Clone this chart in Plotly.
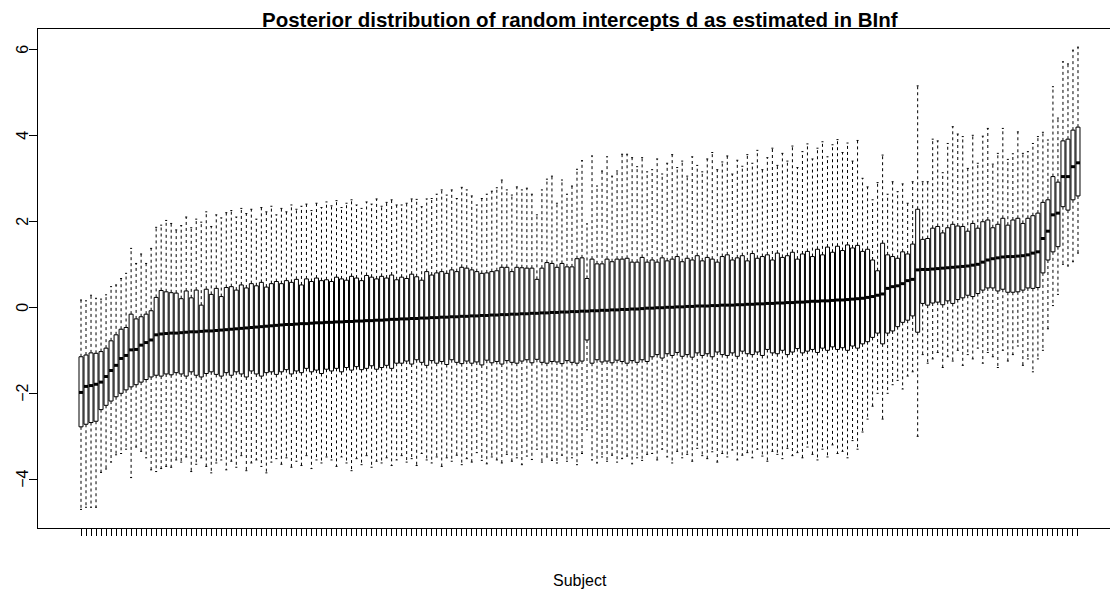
import plotly.graph_objects as go

# ---- data, subjects ordered 1..200 ----
med = [-1.98, -1.84, -1.82, -1.79, -1.74, -1.61, -1.47, -1.35, -1.19, -1.12,
       -0.99, -0.98, -0.88, -0.82, -0.76, -0.64, -0.62, -0.61, -0.60, -0.60,
       -0.59, -0.58, -0.57, -0.57, -0.56, -0.55, -0.55, -0.54, -0.53, -0.52,
       -0.51, -0.50, -0.49, -0.48, -0.47, -0.46, -0.45, -0.44, -0.43, -0.42,
       -0.41, -0.40, -0.40, -0.39, -0.38, -0.38, -0.37, -0.36, -0.36, -0.35,
       -0.35, -0.34, -0.34, -0.33, -0.33, -0.32, -0.32, -0.31, -0.31, -0.30, -0.30, -0.29, -0.28, -0.28,
       -0.27, -0.27, -0.26, -0.26, -0.25, -0.25, -0.24, -0.24, -0.23, -0.23,
       -0.22, -0.22, -0.21, -0.21, -0.20, -0.20, -0.19, -0.19, -0.18, -0.18,
       -0.17, -0.17, -0.16, -0.16, -0.15, -0.15, -0.14, -0.14, -0.13, -0.13,
       -0.12, -0.12, -0.11, -0.11, -0.10, -0.10, -0.09, -0.09, -0.08, -0.08,
       -0.07, -0.07, -0.06, -0.06, -0.05, -0.05, -0.04, -0.04, -0.03, -0.02,
       -0.02, -0.01, -0.01, 0.00, 0.00, 0.01, 0.01, 0.02, 0.02, 0.03,
       0.03, 0.03, 0.04, 0.04, 0.05, 0.05, 0.05, 0.06, 0.06, 0.07,
       0.07, 0.08, 0.08, 0.09, 0.09, 0.10, 0.10, 0.11, 0.11, 0.12,
       0.12, 0.13, 0.14, 0.14, 0.15, 0.15, 0.16, 0.17, 0.17, 0.18,
       0.19, 0.20, 0.21, 0.23, 0.25, 0.28,
       0.31, 0.44, 0.48, 0.50, 0.55, 0.62, 0.65, 0.87, 0.88, 0.88,
       0.89, 0.90, 0.91, 0.92, 0.93, 0.94, 0.95, 0.96, 0.98, 1.00,
       1.05, 1.10, 1.13, 1.15, 1.17, 1.18, 1.18, 1.19, 1.20, 1.22,
       1.26, 1.29, 1.60, 1.77, 2.15, 2.19, 3.04, 3.04, 3.27, 3.36]

q1 = [-2.78, -2.72, -2.68, -2.65, -2.38, -2.28, -2.18, -2.08, -2.00, -1.92,
      -1.85, -1.80, -1.74, -1.68, -1.62, -1.58, -1.60, -1.55, -1.57, -1.52,
      -1.55, -1.60, -1.50, -1.58, -1.62, -1.54, -1.50, -1.56, -1.60, -1.52,
      -1.58, -1.50, -1.55, -1.62, -1.48, -1.55, -1.60, -1.52, -1.50, -1.56,
      -1.50, -1.45, -1.55, -1.48, -1.52, -1.42, -1.50, -1.46, -1.54, -1.44,
      -1.48, -1.42, -1.50, -1.40, -1.46, -1.38, -1.45, -1.42, -1.36, -1.44, -1.40, -1.35, -1.42, -1.30,
      -1.30, -1.25, -1.32, -1.22, -1.28, -1.35, -1.24, -1.30, -1.26, -1.33,
      -1.22, -1.28, -1.31, -1.25, -1.30, -1.27, -1.34, -1.23, -1.29, -1.26,
      -1.32, -1.24, -1.28, -1.30, -1.25, -1.22, -1.29, -1.21, -1.28, -1.30,
      -1.26, -1.27, -1.31, -1.24, -1.28, -1.30, -1.25, -0.76, -1.30, -1.22,
      -1.27, -1.25, -1.29, -1.23, -1.26, -1.30, -1.24, -1.28, -1.22, -1.26,
      -1.15, -1.10, -1.18, -1.08, -1.12, -1.05, -1.14, -1.10, -1.16, -1.06,
      -1.12, -1.08, -1.15, -1.04, -1.10, -1.12, -1.06, -1.14, -1.02, -1.08,
      -1.10, -1.04, -1.12, -0.98, -1.06, -1.08, -1.00, -1.10, -1.04, -0.96,
      -1.06, -1.02, -0.98, -1.05, -0.95, -1.00, -0.92, -0.98, -0.94, -1.00,
      -0.90, -0.95, -0.85, -0.80, -0.70, -0.60,
      -0.85, -0.60, -0.55, -0.45, -0.35, -0.30, -0.20, -0.58, 0.09, 0.05,
      0.10, 0.12, 0.06, 0.15, 0.09, 0.18, 0.22, 0.28, 0.25, 0.32,
      0.40, 0.45, 0.45, 0.38, 0.42, 0.35, 0.35, 0.36, 0.40, 0.45,
      0.44, 0.46, 0.80, 1.10, 1.29, 1.41, 2.34, 2.26, 2.50, 2.59]

q3 = [-1.15, -1.11, -1.06, -1.07, -1.03, -0.95, -0.78, -0.64, -0.51, -0.47,
      -0.16, -0.27, -0.22, -0.16, -0.08, 0.23, 0.39, 0.36, 0.34, 0.33,
      0.20, 0.38, 0.22, 0.40, 0.05, 0.42, 0.30, 0.44, 0.25, 0.46,
      0.48, 0.40, 0.52, 0.45, 0.55, 0.50, 0.58, 0.47, 0.55, 0.60,
      0.55, 0.62, 0.58, 0.65, 0.52, 0.66, 0.60, 0.68, 0.62, 0.64,
      0.60, 0.70, 0.66, 0.63, 0.72, 0.68, 0.62, 0.74, 0.70, 0.66, 0.72, 0.68, 0.75, 0.64,
      0.70, 0.67, 0.77, 0.71, 0.63, 0.83, 0.75, 0.80, 0.83, 0.79,
      0.87, 0.83, 0.93, 0.91, 0.87, 0.83, 0.79, 0.80, 0.83, 0.85,
      0.93, 0.93, 0.83, 0.93, 0.92, 0.91, 0.91, 0.65, 0.91, 1.04,
      1.02, 0.93, 1.02, 0.94, 0.94, 1.13, 1.15, 0.67, 1.12, 1.01,
      1.01, 1.12, 1.06, 1.12, 1.12, 1.14, 1.05, 1.05, 1.16, 1.05,
      1.10, 1.05, 1.15, 1.08, 1.12, 1.18, 1.06, 1.14, 1.10, 1.20,
      1.08, 1.16, 1.12, 1.05, 1.18, 1.22, 1.10, 1.15, 1.20, 1.08,
      1.25, 1.14, 1.18, 1.22, 1.10, 1.26, 1.16, 1.20, 1.28, 1.12,
      1.24, 1.30, 1.18, 1.35, 1.22, 1.40, 1.28, 1.42, 1.32, 1.45,
      1.38, 1.44, 1.30, 1.35, 1.10, 0.85,
      1.49, 1.22, 1.18, 1.14, 1.29, 1.24, 1.47, 2.28, 1.58, 1.60,
      1.84, 1.88, 1.73, 1.85, 1.93, 1.89, 1.88, 1.77, 1.95, 1.84,
      1.99, 2.03, 1.85, 1.93, 2.07, 1.91, 2.03, 2.07, 1.95, 2.07,
      2.13, 2.19, 2.44, 2.50, 3.04, 2.91, 3.87, 3.91, 4.12, 4.19]

lower = [-4.70, -4.65, -4.65, -4.65, -3.84, -3.76, -3.60, -3.43, -3.40, -3.30,
         -3.96, -3.25, -3.35, -3.50, -3.78, -3.82, -3.75, -3.70, -3.72, -3.55,
         -3.60, -3.48, -3.82, -3.65, -3.50, -3.70, -3.85, -3.62, -3.55, -3.78,
         -3.58, -3.72, -3.45, -3.80, -3.62, -3.55, -3.70, -3.85, -3.60, -3.52,
         -3.65, -3.50, -3.72, -3.58, -3.68, -3.45, -3.75, -3.55, -3.62, -3.48,
         -3.55, -3.70, -3.48, -3.62, -3.80, -3.52, -3.66, -3.45, -3.72, -3.58, -3.62, -3.50, -3.68, -3.55,
         -3.45, -3.60, -3.52, -3.68, -3.40, -3.55, -3.62, -3.48, -3.70, -3.50,
         -3.58, -3.44, -3.66, -3.52, -3.60, -3.38, -3.56, -3.64, -3.48, -3.55,
         -3.62, -3.42, -3.58, -3.50, -3.66, -3.46, -3.54, -3.30, -3.60, -3.48,
         -3.56, -3.62, -3.44, -3.58, -3.50, -3.66, -3.40, -2.85, -3.55, -3.62,
         -3.48, -3.58, -3.44, -3.60, -3.52, -3.46, -3.64, -3.50, -3.56, -3.42,
         -3.40, -3.55, -3.30, -3.48, -3.62, -3.35, -3.50, -3.42, -3.58, -3.28,
         -3.45, -3.52, -3.36, -3.60, -3.40, -3.48, -3.32, -3.55, -3.44, -3.38,
         -3.50, -3.30, -3.46, -3.58, -3.35, -3.42, -3.52, -3.28, -3.45, -3.38,
         -3.50, -3.25, -3.42, -3.55, -3.30, -3.48, -3.20, -3.40, -3.35, -3.50,
         -3.10, -3.30, -2.90, -2.60, -2.30, -2.00,
         -2.60, -2.00, -1.80, -1.70, -1.90, -1.60, -1.50, -3.00, -1.10, -1.30,
         -1.20, -1.05, -1.40, -1.15, -1.25, -1.00, -1.35, -1.10, -1.20, -0.95,
         -1.30, -1.05, -1.15, -1.40, -1.00, -1.25, -1.10, -0.90, -1.35, -1.20,
         -1.50, -1.20, -1.00, -0.50, 0.04, 0.30, 1.00, 0.96, 1.06, 1.26]

upper = [0.17, 0.15, 0.28, 0.21, 0.19, 0.29, 0.48, 0.52, 0.67, 0.79,
         1.37, 1.02, 1.24, 1.02, 1.37, 1.86, 1.91, 2.02, 1.95, 1.80,
         1.90, 2.10, 1.85, 2.05, 1.98, 2.22, 1.88, 2.15, 2.08, 2.20,
         2.25, 2.10, 2.30, 2.18, 2.28, 2.05, 2.32, 2.22, 2.35, 2.15,
         2.30, 2.22, 2.38, 2.28, 2.35, 2.40, 2.25, 2.42, 2.32, 2.45,
         2.36, 2.48, 2.32, 2.42, 2.50, 2.38, 2.30, 2.45, 2.40, 2.52, 2.35, 2.44, 2.50, 2.38,
         2.38, 2.42, 2.52, 2.51, 2.34, 2.52, 2.53, 2.63, 2.73, 2.61,
         2.73, 2.53, 2.79, 2.73, 2.59, 2.38, 2.53, 2.63, 2.70, 2.78,
         2.96, 2.73, 2.61, 2.80, 2.73, 2.77, 2.63, 2.15, 2.73, 2.98,
         3.05, 2.42, 2.96, 2.63, 2.82, 3.21, 3.41, 1.94, 3.52, 2.82,
         3.17, 3.50, 3.05, 3.17, 3.56, 3.56, 3.48, 3.27, 3.48, 3.15,
         3.20, 3.45, 3.10, 3.35, 3.55, 3.25, 3.40, 3.05, 3.50, 3.30,
         3.15, 3.45, 3.60, 3.20, 3.38, 3.52, 3.10, 3.42, 3.28, 3.55,
         3.35, 3.65, 3.20, 3.48, 3.70, 3.30, 3.58, 3.40, 3.75, 3.25,
         3.62, 3.80, 3.45, 3.70, 3.85, 3.50, 3.78, 3.90, 3.60, 3.82,
         3.40, 3.88, 3.00, 2.80, 2.50, 2.90,
         3.54, 2.63, 2.92, 2.69, 2.87, 2.42, 2.92, 5.15, 2.92, 2.92,
         3.91, 3.87, 3.13, 3.81, 4.20, 4.03, 3.97, 3.23, 4.00, 3.35,
         3.98, 4.16, 3.33, 3.58, 4.16, 3.44, 3.57, 4.08, 3.58, 3.62,
         3.81, 3.97, 4.07, 3.89, 5.13, 4.40, 5.71, 5.66, 5.98, 6.05]

y_ticks = [-4, -2, 0, 2, 4, 6]
y_tick_labels = ["\u22124", "\u22122", "0", "2", "4", "6"]
title_text = "Posterior distribution of random intercepts d as estimated in BInf"
x_label = "Subject"

n = len(med)
assert all(len(a) == n for a in (q1, q3, lower, upper)), [len(a) for a in (med, q1, q3, lower, upper)]
subjects = list(range(1, n + 1))

BOXW = 0.8
STAPLE = 0.2

# whiskers (dashed)
wx, wy = [], []
for i, a, b, c, d in zip(subjects, q3, upper, q1, lower):
    wx += [i, i, None, i, i, None]
    wy += [a, b, None, c, d, None]
# staples
sx, sy = [], []
for i, b, d in zip(subjects, upper, lower):
    sx += [i - STAPLE, i + STAPLE, None, i - STAPLE, i + STAPLE, None]
    sy += [b, b, None, d, d, None]
# medians
mx, my = [], []
for i, m in zip(subjects, med):
    mx += [i - BOXW / 2, i + BOXW / 2, None]
    my += [m, m, None]

fig = go.Figure()
fig.add_trace(go.Scatter(x=wx, y=wy, mode="lines",
                         line=dict(color="black", width=1, dash="3px,3px"),
                         hoverinfo="skip", showlegend=False))
fig.add_trace(go.Scatter(x=sx, y=sy, mode="lines",
                         line=dict(color="black", width=1),
                         hoverinfo="skip", showlegend=False))
fig.add_trace(go.Bar(x=subjects, base=q1, y=[b - a for a, b in zip(q1, q3)],
                     width=BOXW, marker=dict(color="white", line=dict(color="black", width=1)),
                     showlegend=False))
fig.add_trace(go.Scatter(x=mx, y=my, mode="lines",
                         line=dict(color="black", width=3),
                         hoverinfo="skip", showlegend=False))

L, T, B = 38, 29, 528
W, H = 1110, 589
px_per_box = 5.01
x0_px = 81.0
xmin = 1 - (x0_px - L) / px_per_box
xmax = 1 + (W - x0_px) / px_per_box
FONT = "Liberation Sans, Arial, Helvetica, sans-serif"

annotations = [
    dict(text="<b>" + title_text + "</b>", xref="paper", yref="paper",
         x=(579.5 - L) / (W - L), y=1 + (T - 19.5) / (B - T),
         xanchor="center", yanchor="middle", showarrow=False,
         font=dict(size=20.5, family=FONT)),
    dict(text=x_label, xref="paper", yref="paper",
         x=(579.5 - L) / (W - L), y=-(580 - B) / (B - T),
         xanchor="center", yanchor="middle", showarrow=False,
         font=dict(size=16, family=FONT)),
]
# y tick labels, rotated like R's default (parallel to the axis)
for v, lab in zip(y_ticks, y_tick_labels):
    annotations.append(dict(text=lab, xref="paper", yref="y",
                            x=(22.5 - L) / (W - L), y=v, textangle=-90,
                            xanchor="center", yanchor="middle", showarrow=False,
                            font=dict(size=16, family=FONT)))

fig.update_layout(
    width=W, height=H,
    margin=dict(l=L, r=0, t=T, b=H - B, pad=0, autoexpand=False),
    paper_bgcolor="white", plot_bgcolor="white",
    font=dict(family=FONT, color="black", size=16),
    barmode="overlay",
    hovermode=False,
    xaxis=dict(range=[xmin, xmax], showgrid=False, zeroline=False, automargin=False,
               showline=True, linecolor="black", linewidth=1, mirror=True,
               tickmode="array", tickvals=subjects, ticktext=[""] * n,
               ticks="outside", ticklen=7, tickwidth=1, tickcolor="black"),
    yaxis=dict(range=[(307.3 - B) / 43.0, (307.3 - T) / 43.0], showgrid=False, zeroline=False,
               automargin=False,
               showline=True, linecolor="black", linewidth=1,
               tickmode="array", tickvals=y_ticks, showticklabels=False,
               ticks="outside", ticklen=8, tickwidth=1, tickcolor="black"),
    annotations=annotations,
)

fig.write_html("out.html", config={"displayModeBar": False, "staticPlot": True},
               post_script="document.body.style.margin='0';document.body.style.overflow='hidden';")
